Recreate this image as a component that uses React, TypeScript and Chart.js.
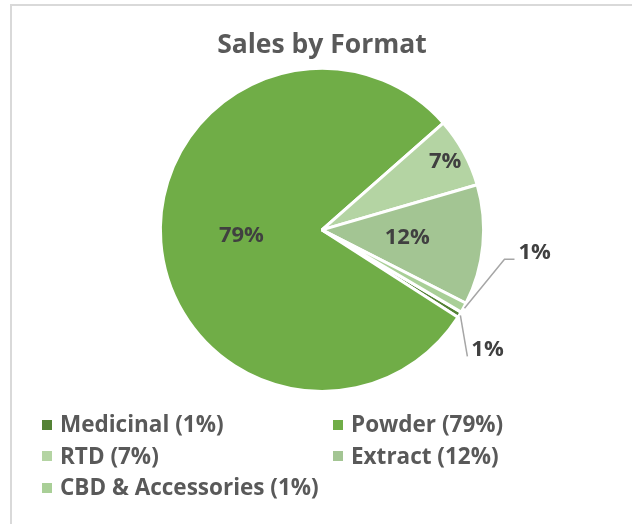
import React, { useEffect, useRef } from "react";
import { Chart, registerables } from "chart.js";

Chart.register(...registerables);

const chartTitle = "Sales by Format";
const categories = ["Medicinal", "Powder", "RTD", "Extract", "CBD & Accessories"];
const shares = [0.6, 79.4, 7, 12, 1];
const sliceColors = ["#548235", "#70AD47", "#B4D4A3", "#A3C593", "#A9CF97"];

type Placement =
  | { kind: "in"; f: number }
  | { kind: "out"; dx: number; dy: number; tail: number };

const placements: Placement[] = [
  { kind: "out", dx: 7, dy: 41, tail: 0 },
  { kind: "in", f: 0.5 },
  { kind: "in", f: 0.87 },
  { kind: "in", f: 0.53 },
  { kind: "out", dx: 40, dy: -49, tail: 10 },
];

const FONT = "'Open Sans'";
const totalShare = shares.reduce((a, b) => a + b, 0);
const pct = (v: number) => Math.round((v / totalShare) * 100) + "%";

const labelPlugin = {
  id: "sliceLabels",
  afterDatasetsDraw(chart: any) {
    const meta = chart.getDatasetMeta(0);
    const data = chart.data.datasets[0].data as number[];
    const ctx = chart.ctx as CanvasRenderingContext2D;
    ctx.save();
    ctx.font = `bold 22px ${FONT}`;
    ctx.fillStyle = "#404040";
    meta.data.forEach((arc: any, i: number) => {
      const p = arc.getProps(["x", "y", "startAngle", "endAngle", "outerRadius"], true);
      const mid = (p.startAngle + p.endAngle) / 2;
      const txt = pct(data[i]);
      const pl = placements[i];
      if (pl.kind === "in") {
        ctx.textAlign = "center";
        ctx.textBaseline = "middle";
        ctx.fillText(
          txt,
          p.x + Math.cos(mid) * p.outerRadius * pl.f,
          p.y + Math.sin(mid) * p.outerRadius * pl.f
        );
      } else {
        const ex = p.x + Math.cos(mid) * (p.outerRadius + 1);
        const ey = p.y + Math.sin(mid) * (p.outerRadius + 1);
        const bx = ex + pl.dx;
        const by = ey + pl.dy;
        const tx = bx + pl.tail;
        ctx.strokeStyle = "#A6A6A6";
        ctx.lineWidth = 1.5;
        ctx.beginPath();
        ctx.moveTo(ex, ey);
        ctx.lineTo(bx, by);
        if (pl.tail) ctx.lineTo(tx, by);
        ctx.stroke();
        ctx.textAlign = "left";
        ctx.textBaseline = "alphabetic";
        ctx.fillText(txt, tx + 4, by);
      }
    });
    ctx.restore();
  },
};

export default function App() {
  const canvasRef = useRef<HTMLCanvasElement | null>(null);

  useEffect(() => {
    let chart: Chart | null = null;
    let cancelled = false;
    const make = () => {
      if (cancelled || !canvasRef.current) return;
      chart = new Chart(canvasRef.current, {
        type: "pie",
        data: {
          labels: categories,
          datasets: [
            {
              data: shares,
              backgroundColor: sliceColors,
              borderColor: "#FFFFFF",
              borderWidth: 3,
            },
          ],
        },
        options: {
          responsive: false,
          animation: false,
          events: [],
          rotation: 120.6,
          layout: { padding: { top: 0, left: 12, right: 0, bottom: 131 } },
          plugins: {
            legend: { display: false },
            tooltip: { enabled: false },
            title: {
              display: true,
              text: chartTitle,
              color: "#595959",
              font: { family: "Open Sans", size: 26.5, weight: "bold", lineHeight: 1.2 },
              padding: { top: 30, bottom: 5 },
            },
          },
        },
        plugins: [labelPlugin],
      });
    };
    const fonts: any = (document as any).fonts;
    if (fonts && fonts.load) {
      Promise.all([fonts.load(`bold 26px ${FONT}`), fonts.load(`bold 22px ${FONT}`)])
        .catch(() => null)
        .then(make);
    } else {
      make();
    }
    return () => {
      cancelled = true;
      if (chart) chart.destroy();
    };
  }, []);

  return (
    <div
      style={{
        position: "fixed",
        left: 0,
        top: 0,
        width: 632,
        height: 524,
        overflow: "hidden",
        background: "#FFFFFF",
      }}
    >
      <div
        style={{
          position: "absolute",
          left: 10,
          top: 4,
          width: 700,
          height: 600,
          border: "2px solid #D9D9D9",
          boxSizing: "border-box",
        }}
      />
      <canvas
        ref={canvasRef}
        width={632}
        height={524}
        style={{ position: "absolute", left: 0, top: 0, width: 632, height: 524 }}
      />
      <div
        style={{
          position: "absolute",
          left: 42,
          top: 408,
          display: "grid",
          gridTemplateColumns: "291px 291px",
          fontFamily: FONT,
          fontWeight: "bold",
          fontSize: 22.5,
          lineHeight: "31.5px",
          color: "#595959",
        }}
      >
        {categories.map((c, i) => (
          <div key={c} style={{ display: "flex", alignItems: "center", whiteSpace: "nowrap" }}>
            <span
              style={{
                display: "inline-block",
                width: 10,
                height: 10,
                background: sliceColors[i],
                marginRight: 8,
                marginTop: 2,
              }}
            />
            <span>{`${c} (${pct(shares[i])})`}</span>
          </div>
        ))}
      </div>
    </div>
  );
}
